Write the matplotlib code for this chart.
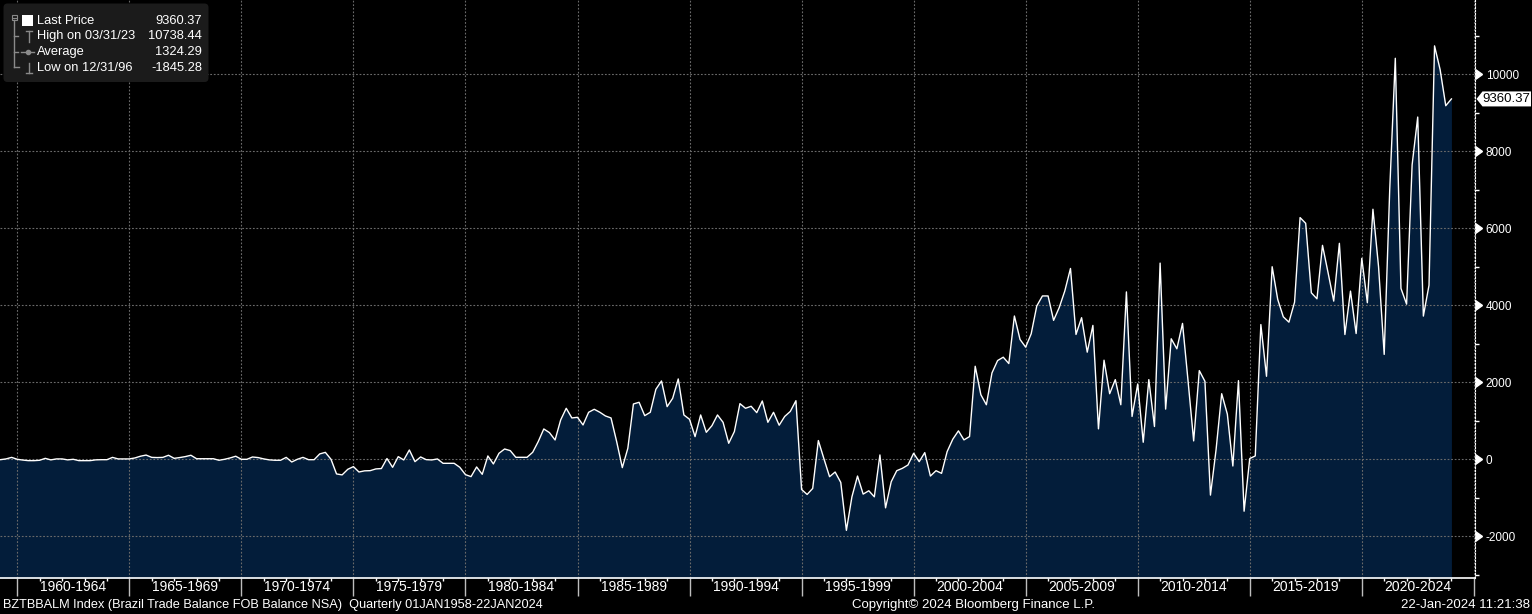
import numpy as np
import pandas as pd
import matplotlib
matplotlib.use('Agg')
import matplotlib.pyplot as plt
import matplotlib.transforms as mtransforms
from matplotlib.patches import FancyBboxPatch, Polygon, Rectangle
from matplotlib.lines import Line2D
from matplotlib.ticker import FixedLocator, NullFormatter

# --- DATA: Brazil trade balance, quarterly, 1958 Q1 .. 2023 Q4 (USD mn) ---
first_quarter = '1958-03-31'
trade_balance = [
    20, -10, 30, 0,
    -10, 10, 50, 0, -20, -35, -35, -25, 25, -15,
    10, 10, -15, 0, -35, -35, -35, -15, -10, -10,
    50, 10, 10, 10, 35, 80, 110, 50, 45, 50,
    105, 25, 45, 70, 105, 15, 15, 15, 15, -25,
    0, 35, 80, 0, 0, 60, 45, 10, -15, -25,
    -25, 50, -70, 0, 50, -10, -10, 140, 180, 0,
    -380, -405, -260, -190, -330, -300, -295, -250, -240, 20,
    -208, 69, -17, 242, -61, 61, -9, -17, 9, -104,
    -104, -104, -208, -398, -450, -199, -390, 87, -121, 156,
    268, 225, 52, 52, 52, 182, 459, 788, 693, 502,
    1022, 1325, 1074, 1091, 892, 1221, 1299, 1221, 1126, 1074,
    459, -216, 286, 1437, 1481, 1134, 1221, 1818, 2035, 1368,
    1584, 2087, 1152, 1039, 589, 1152, 701, 874, 1152, 961,
    416, 719, 1446, 1325, 1377, 1212, 1515, 961, 1221, 885,
    1113, 1243, 1522, -783, -913, -757, 487, 9, -452, -330,
    -600, -1845.28, -974, -435, -904, -817, -974, 113, -1261, -583,
    -296, -235, -148, 157, -61, 174, -435, -296, -365, 200,
    522, 739, 504, 591, 2417, 1678, 1417, 2243, 2565, 2652,
    2487, 3722, 3113, 2913, 3260, 3983, 4243, 4243, 3609, 3939,
    4374, 4957, 3243, 3678, 2783, 3478, 791, 2574, 1704, 2070,
    1417, 4348, 1113, 1957, 443, 2070, 852, 5096, 1304, 3130,
    2870, 3530, 2026, 478, 2304, 2026, -930, 243, 1704, 1174,
    -174, 2043, -1348, 20, 87, 3500, 2156, 5002, 4152, 3701,
    3562, 4082, 6278, 6130, 4325, 4169, 5557, 4846, 4109, 5610,
    3241, 4369, 3267, 5220, 4067, 6495, 5000, 2725, 7000, 10416,
    4440, 4030, 7650, 8890, 3720, 4520, 10738.44, 10121, 9184, 9360.37,
]

period_starts = list(range(1960, 2025, 5))
period_labels = [f'{y}-{y + 4}' for y in period_starts]
y_major = [-2000, 0, 2000, 4000, 6000, 8000, 10000]
y_minor = [-3000, -1000, 1000, 3000, 5000, 7000, 9000, 11000]

legend_labels = ['Last Price', 'High on 03/31/23', 'Average', 'Low on 12/31/96']
legend_values = ['9360.37', '10738.44', '1324.29', '-1845.28']

footer_left = 'BZTBBALM Index (Brazil Trade Balance FOB Balance NSA)  Quarterly 01JAN1958-22JAN2024'
footer_mid = 'Copyright\u00a9 2024 Bloomberg Finance L.P.'
footer_right = '22-Jan-2024 11:21:38'

W, H = 1532, 614
FILL = '#031d3a'
GRID = '#6a6a6a'
FONT = ['Liberation Sans', 'DejaVu Sans']


def px(x, y):
    """figure pixel coords measured from the top-left -> display coords"""
    return (x, H - y)


def main():
    plt.rcParams['font.family'] = FONT

    dates = pd.date_range(first_quarter, periods=len(trade_balance), freq='QE')
    t = dates.year + dates.dayofyear / np.where(dates.is_leap_year, 366, 365)
    values = np.array(trade_balance, dtype=float)

    fig = plt.figure(figsize=(W / 100, H / 100), dpi=100, facecolor='black')
    ax = fig.add_axes([0, 36 / H, 1474.5 / W, 578 / H])
    ax.set_facecolor('black')

    ymin, ymax = -3083, 11930
    ax.fill_between(t, values, ymin - 1000, color=FILL, lw=0, zorder=1)
    ax.plot(t, values, color='white', lw=1.0, zorder=3)
    ax.set_xlim(1959.228, 2025.03)
    ax.set_ylim(ymin, ymax)

    # grid
    ax.set_xticks(period_starts + [2025])
    ax.xaxis.set_major_formatter(NullFormatter())
    ax.xaxis.set_minor_locator(FixedLocator([y for y in range(1960, 2025) if y % 5]))
    ax.tick_params(axis='x', which='major', length=13, width=1, color='#bdbdbd')
    ax.tick_params(axis='x', which='minor', length=2, width=1, color='white')
    ax.grid(True, axis='both', which='major', color=GRID, lw=0.8, ls=(0, (1.6, 1.6)), zorder=2)

    # period labels centred between separators
    sec = ax.secondary_xaxis('bottom')
    sec.set_xticks([y + 2.5 for y in period_starts])
    sec.set_xticklabels(period_labels)
    sec.tick_params(length=0, pad=1.5, labelsize=10, labelcolor='white')
    sec.spines['bottom'].set_visible(False)

    # right value axis
    ax.yaxis.tick_right()
    ax.set_yticks(y_major)
    ax.set_yticklabels([str(v) for v in y_major])
    ax.yaxis.set_minor_locator(FixedLocator(y_minor))
    ax.tick_params(axis='y', which='major', length=0, pad=8, labelsize=8.5, labelcolor='white')
    ax.tick_params(axis='y', which='minor', length=3, width=1, color='white')
    edge = mtransforms.blended_transform_factory(ax.transAxes, ax.transData)
    ax.plot(np.ones(len(y_major)), y_major, ls='none', marker=9, ms=7,
            color='white', transform=edge, clip_on=False, zorder=5)

    for side in ['top', 'left']:
        ax.spines[side].set_visible(False)
    ax.spines['right'].set_color('white')
    ax.spines['right'].set_linestyle((0, (1.5, 1.5)))
    ax.spines['right'].set_linewidth(0.8)
    ax.spines['bottom'].set_color('white')
    ax.spines['bottom'].set_linewidth(1.2)

    # last price tag
    ident = mtransforms.IdentityTransform()
    last = values[-1]
    x_edge, y_last = ax.transAxes.transform((1, 0))[0], ax.transData.transform((0, last))[1]
    tag = Polygon([(x_edge + 2, y_last), (x_edge + 8, y_last + 7.5), (W - 1, y_last + 7.5),
                   (W - 1, y_last - 7.5), (x_edge + 8, y_last - 7.5)],
                  closed=True, fc='white', ec='none', transform=ident)
    fig.add_artist(tag)
    fig.text(x_edge + 8 + (W - 1 - x_edge - 8) / 2, y_last, f'{last:.2f}', transform=ident,
             ha='center', va='center', fontsize=9.5, color='black')

    # --- legend block top-left ---
    bx, by = px(3.5, 82)
    fig.add_artist(FancyBboxPatch((bx, by), 205, 78.5, boxstyle='round,pad=0,rounding_size=4',
                                  fc='#1b1b1b', ec='none', transform=ident))
    rows_y = [20.7, 36, 52, 68.3]
    for label, val, ry in zip(legend_labels, legend_values, rows_y):
        fig.text(*px(37.3, ry), label, transform=ident, ha='left', va='center',
                 fontsize=9.3, color='white')
        fig.text(*px(202, ry), val, transform=ident, ha='right', va='center',
                 fontsize=9.3, color='white')

    icon = '#8a8a8a'
    def seg(x0, y0, x1, y1, lw=1.0, c=icon):
        fig.add_artist(Line2D([x0, x1], [H - y0, H - y1], color=c, lw=lw, transform=ident))

    # tree
    fig.add_artist(Rectangle(px(11.5, 20), 5, 5, fc='none', ec=icon, lw=0.8, transform=ident))
    seg(12.5, 17.5, 15.5, 17.5, lw=0.8)
    seg(14, 20, 14, 67)
    for ry in [36, 52]:
        seg(14, ry, 18, ry)
    seg(14, 67, 19, 67)
    fig.add_artist(Rectangle(px(21.7, 25.5), 11, 10.5, fc='white', ec='none', transform=ident))
    # high / average / low glyphs
    seg(25.5, 31, 31.5, 31)
    seg(28.5, 31, 28.5, 41.5)
    seg(21, 52, 34, 52)
    fig.add_artist(Line2D([27.5], [H - 52], marker='o', ms=3, color=icon, transform=ident))
    seg(28.5, 62.5, 28.5, 72.5)
    seg(25.5, 72.5, 31.5, 72.5)

    # --- footer ---
    fig.text(*px(3, 605), footer_left, transform=ident, ha='left', va='center',
             fontsize=9.2, color='white')
    fig.text(*px(973, 605), footer_mid, transform=ident, ha='center', va='center',
             fontsize=9.5, color='white')
    fig.text(*px(1530, 605), footer_right, transform=ident, ha='right', va='center',
             fontsize=9.5, color='white')

    fig.savefig('out.png', dpi=100, facecolor='black')


if __name__ == '__main__':
    main()
